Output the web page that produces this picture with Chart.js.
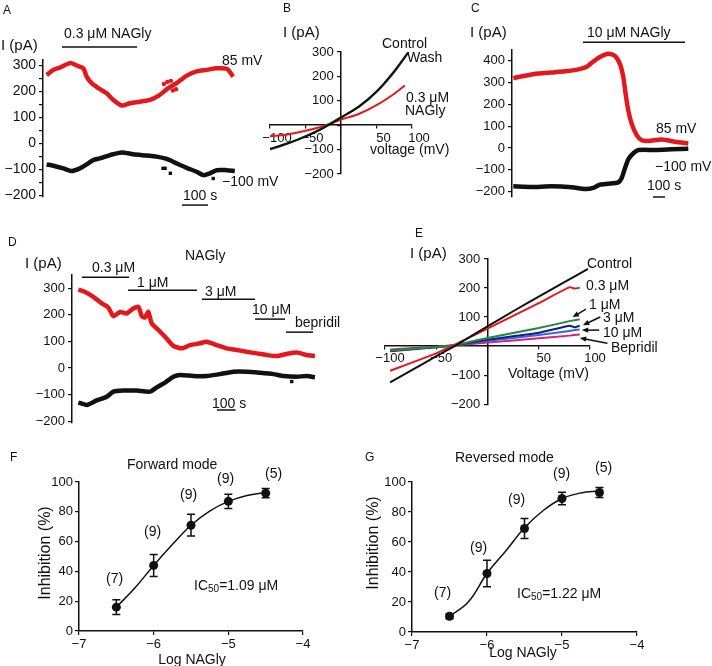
<!DOCTYPE html>
<html><head><meta charset="utf-8">
<script src="https://cdn.jsdelivr.net/npm/chart.js@4.4.1/dist/chart.umd.min.js"></script>
<style>
html,body{margin:0;padding:0;background:#fff;}
#fig{position:relative;width:712px;height:666px;overflow:hidden;background:#fff;font-family:"Liberation Sans",Arial,Helvetica,sans-serif;color:#111;}
canvas{position:absolute;}
.t{position:absolute;font-size:14px;line-height:16px;white-space:nowrap;}
.p{position:absolute;font-size:12px;line-height:14px;}
.r{position:absolute;font-size:16px;line-height:18px;white-space:nowrap;transform:translate(-50%,-50%) rotate(-90deg);}
.c{position:absolute;font-size:14px;line-height:16px;white-space:nowrap;transform:translateX(-50%);}
sub{font-size:10px;vertical-align:-2px;line-height:0;}
</style></head><body><div id="fig">
<canvas id="cA"></canvas><canvas id="cB"></canvas><canvas id="cC"></canvas>
<canvas id="cD"></canvas><canvas id="cE"></canvas><canvas id="cF"></canvas><canvas id="cG"></canvas>

<div class="p" style="left:3px;top:3px">A</div>
<div class="t" style="left:1px;top:37px;font-size:15px">I (pA)</div>
<div class="t" style="left:64px;top:25px">0.3 μM NAGly</div>
<div class="t" style="left:222px;top:52px">85 mV</div>
<div class="t" style="left:222px;top:173px">−100 mV</div>
<div class="t" style="left:183px;top:187px">100 s</div>

<div class="p" style="left:283px;top:1px">B</div>
<div class="t" style="left:283px;top:24px;font-size:15px">I (pA)</div>
<div class="t" style="left:382px;top:35px">Control</div>
<div class="t" style="left:407px;top:49px">Wash</div>
<div class="t" style="left:406px;top:89px">0.3 μM</div>
<div class="t" style="left:405px;top:102px">NAGly</div>
<div class="t" style="left:370px;top:141px">voltage (mV)</div>

<div class="p" style="left:471px;top:1px">C</div>
<div class="t" style="left:470px;top:24px;font-size:15px">I (pA)</div>
<div class="t" style="left:587px;top:24px">10 μM NAGly</div>
<div class="t" style="left:656px;top:120px">85 mV</div>
<div class="t" style="left:655px;top:158px">−100 mV</div>
<div class="t" style="left:647px;top:177px">100 s</div>

<div class="p" style="left:8px;top:235px">D</div>
<div class="t" style="left:25px;top:255px;font-size:15px">I (pA)</div>
<div class="t" style="left:185px;top:247px">NAGly</div>
<div class="t" style="left:92px;top:259px">0.3 μM</div>
<div class="t" style="left:137px;top:274px">1 μM</div>
<div class="t" style="left:205px;top:283px">3 μM</div>
<div class="t" style="left:252px;top:301px">10 μM</div>
<div class="t" style="left:295px;top:314px">bepridil</div>
<div class="t" style="left:212px;top:395px">100 s</div>

<div class="p" style="left:415px;top:226px">E</div>
<div class="t" style="left:410px;top:245px;font-size:15px">I (pA)</div>
<div class="t" style="left:587px;top:255px">Control</div>
<div class="t" style="left:586px;top:277px">0.3 μM</div>
<div class="t" style="left:589px;top:296px">1 μM</div>
<div class="t" style="left:603px;top:309px">3 μM</div>
<div class="t" style="left:603px;top:324px">10 μM</div>
<div class="t" style="left:611px;top:339px">Bepridil</div>
<div class="t" style="left:508px;top:365px">Voltage (mV)</div>

<div class="p" style="left:10px;top:450px">F</div>
<div class="t" style="left:127px;top:456px">Forward mode</div>
<div class="t" style="left:106px;top:570px">(7)</div>
<div class="t" style="left:144px;top:523px">(9)</div>
<div class="t" style="left:180px;top:486px">(9)</div>
<div class="t" style="left:217px;top:470px">(9)</div>
<div class="t" style="left:265px;top:465px">(5)</div>
<div class="t" style="left:194px;top:577px">IC<sub>50</sub>=1.09 μM</div>
<div class="r" style="left:45px;top:553px">Inhibition (%)</div>
<div class="c" style="left:192px;top:651px">Log NAGly</div>

<div class="p" style="left:365px;top:450px">G</div>
<div class="t" style="left:455px;top:449px">Reversed mode</div>
<div class="t" style="left:434px;top:584px">(7)</div>
<div class="t" style="left:470px;top:539px">(9)</div>
<div class="t" style="left:508px;top:491px">(9)</div>
<div class="t" style="left:553px;top:465px">(9)</div>
<div class="t" style="left:595px;top:459px">(5)</div>
<div class="t" style="left:517px;top:585px">IC<sub>50</sub>=1.22 μM</div>
<div class="r" style="left:373px;top:543px">Inhibition (%)</div>
<div class="c" style="left:523px;top:644px">Log NAGly</div>
</div>
<script>
// ===== DATA =====
// Panel A: time (s) and current (pA) at 85 mV (red) and -100 mV (black)
const tA_red = [14,40,65,104,130,155,168,187,213,245,270,303,335,373,412,444,482,514,553,591,630,668,707,732];
const iA_red = [263,282,291,308,299,288,256,231,212,192,167,145,154,160,167,182,212,231,260,276,282,288,286,256];
const tA_redOut = [465,478,492,500,512];
const iA_redOut = [228,236,240,203,208];
const tA_blk = [14,40,78,110,142,174,194,219,258,303,347,399,437,476,514,553,591,617,642,668,707,738];
const iA_blk = [-81,-86,-96,-106,-96,-77,-64,-58,-45,-35,-42,-47,-51,-60,-77,-94,-109,-122,-115,-103,-103,-106];
const tA_blkOut = [462,470,490,655];
const iA_blkOut = [-96,-96,-115,-135];
const yTicksA = [-200,-150,-100,-50,0,50,100,150,200,250,300];
const yLabelsA = [-200,-100,0,100,200,300];
const drugBarsA = [[73,362,370]];      // [t start, t end, level]
const scaleBarA = [[535,635,-237]];

// Panel B: I-V curves
const vB = [-100,-75,-50,-25,0,25,50,75,95];
const iB_ctrl = [-97,-74,-47,-12,31,76,138,222,300];
const iB_wash = [-100,-75,-45,-10,33,75,136,218,298];
const vB_nag = [-100,-75,-50,-25,0,25,50,75,90];
const iB_nag = [-45,-38,-23,-4,23,46,82,129,163];
const xTicksB = [-100,-50,0,50,100];
const yTicksB = [-200,-100,0,100,200,300];

// Panel C: time course, 10 uM NAGly
const tC_red = [11,108,219,331,442,553,622,678,733,803,858,900,928,947,969,997,1039,1081,1136,1247,1358,1469];
const iC_red = [321,332,342,347,352,361,373,397,418,433,423,385,324,248,173,112,59,36,32,39,29,21];
const tC_blk = [11,164,331,497,608,678,733,803,886,914,942,969,1011,1053,1192,1331,1469];
const iC_blk = [-176,-179,-176,-180,-188,-183,-168,-164,-158,-138,-92,-52,-24,-9,-9,-6,-3];
const yTicksC = [-200,-100,0,100,200,300,400];
const drugBarsC = [[592,1442,486]];
const scaleBarC = [[1175,1275,-225]];

// Panel D: cumulative NAGly + bepridil
const tD_red = [34,70,114,159,194,221,257,292,328,355,373,390,408,426,462,506,542,587,631,684,720,774,827,881,934,988,1041,1095,1148,1202,1255,1299];
const iD_red = [295,286,268,243,228,195,211,205,224,230,195,190,211,168,143,111,83,74,86,93,99,86,74,68,61,55,49,45,53,58,49,45];
const tD_blk = [34,79,132,186,221,275,346,417,453,497,542,578,649,720,791,863,934,1005,1077,1130,1202,1255,1299];
const iD_blk = [-130,-139,-122,-108,-89,-85,-85,-89,-73,-55,-33,-26,-30,-30,-23,-14,-14,-18,-23,-30,-33,-30,-35];
const tD_blkOut = [1175];
const iD_blkOut = [-51];
const yTicksD = [-200,-100,0,100,200,300];
const drugBarsD = [[53,305,342],[300,668,293],[695,979,259],[979,1139,184],[1144,1289,135]];
const scaleBarD = [[775,875,-158]];

// Panel E: I-V at increasing NAGly
const vE_ctrl = [-95,-70,-50,-32,0,25,50,75,98];
const iE_ctrl = [-125,-75,-35,0,68,120,170,220,266];
const vE = [-95,-50,-32,0,50,80,85,90];
const iE_03 = [-85,-25,5,60,148,203,198,201];
const iE_1 = [-15,-3,3,28,62,86,89,92];
const iE_3 = [-18,-4,3,22,46,70,65,70];
const iE_10 = [-16,-3,3,18,38,52,55,57];
const iE_bep = [-12,-2,3,12,27,36,38,40];
const xTicksE = [-100,-50,0,50,100];
const yTicksE = [-200,-100,0,100,200,300];
const arrowsE = [[96,127,83,100],[110,100,93,72],[109,55,92,55],[117,10,90,28]];

// Panels F & G: concentration-response
const logConc = [-6.5,-6,-5.5,-5,-4.5];
const inhF = [16,44,71,87,92.5];
const errF = [5,7.4,7.3,4.8,3.1];
const inhG = [10.5,39,69,89,93];
const errG = [1.7,8.9,6.7,4.2,3.3];
const fitX = [-6.5,-6.25,-6,-5.75,-5.5,-5.25,-5,-4.75,-4.5];
const fitF = [16,29,44,58,71,80.5,87,91,93];
const fitG = [10.5,20,39,54,69.5,81,89,92.7,94];
const xTicksFG = [-7,-6,-5,-4];
const yTicksFG = [0,20,40,60,80,100];

// ===== DRAWING =====
const INK = '#111';
const RED = 'rgb(228,24,28)';
const FONT = '"Liberation Sans", Arial, Helvetica, sans-serif';
const fmt = v => v < 0 ? '\u2212' + Math.abs(v) : String(v);
const pts = (xs, ys) => xs.map((x, i) => ({x: x, y: ys[i]}));
function trace(xs, ys, color, w, tension) {
  return {data: pts(xs, ys), showLine: true, borderColor: color, backgroundColor: color,
    borderWidth: w, pointRadius: 0, tension: tension === undefined ? 0.25 : tension};
}
function dots(xs, ys, color, r, style) {
  return {data: pts(xs, ys), showLine: false, backgroundColor: color, borderColor: color,
    pointRadius: r, pointStyle: style || 'circle', borderWidth: 0};
}
function place(id, box) {
  const c = document.getElementById(id);
  c.width = box[2]; c.height = box[3];
  c.style.left = box[0] + 'px'; c.style.top = box[1] + 'px';
  return c;
}
const gridOpt = (tl) => ({display: true, drawOnChartArea: false, drawTicks: true, tickLength: tl, color: INK, lineWidth: 1.2});
const borderOpt = () => ({display: true, color: INK, width: 1.5});

function annotPlugin(a) {
  return {id: 'annot', afterDatasetsDraw(chart) {
    const ctx = chart.ctx, X = chart.scales.x, Y = chart.scales.y;
    const px = v => X.getPixelForValue(v), py = v => Y.getPixelForValue(v);
    ctx.save(); ctx.strokeStyle = INK; ctx.fillStyle = INK; ctx.lineWidth = 1.5;
    (a.bars || []).forEach(b => {
      ctx.beginPath(); ctx.moveTo(px(b[0]), py(b[2])); ctx.lineTo(px(b[1]), py(b[2])); ctx.stroke();
    });
    if (a.err) {
      a.err.x.forEach((x, i) => {
        const cx = px(x), y0 = py(a.err.y[i] - a.err.e[i]), y1 = py(a.err.y[i] + a.err.e[i]);
        ctx.beginPath(); ctx.moveTo(cx, y0); ctx.lineTo(cx, y1);
        ctx.moveTo(cx - 4, y0); ctx.lineTo(cx + 4, y0);
        ctx.moveTo(cx - 4, y1); ctx.lineTo(cx + 4, y1); ctx.stroke();
      });
    }
    (a.arrows || []).forEach(r => {
      const x0 = px(r[0]), y0 = py(r[1]), x1 = px(r[2]), y1 = py(r[3]);
      const ang = Math.atan2(y1 - y0, x1 - x0), L = 7;
      ctx.lineWidth = 1.5;
      ctx.beginPath(); ctx.moveTo(x0, y0); ctx.lineTo(x1 - Math.cos(ang) * 4, y1 - Math.sin(ang) * 4); ctx.stroke();
      ctx.beginPath(); ctx.moveTo(x1, y1);
      ctx.lineTo(x1 - L * Math.cos(ang - 0.4), y1 - L * Math.sin(ang - 0.4));
      ctx.lineTo(x1 - L * Math.cos(ang + 0.4), y1 - L * Math.sin(ang + 0.4));
      ctx.closePath(); ctx.fill();
    });
    ctx.restore();
  }};
}
const baseOpts = () => ({responsive: false, maintainAspectRatio: false, animation: false, events: [],
  plugins: {legend: {display: false}, tooltip: {enabled: false}}});

function traceChart(id, box, area, xMax, yMin, yMax, yTicks, yLabels, fs, datasets, annot) {
  const cv = place(id, box);
  const o = baseOpts();
  o.layout = {padding: {left: 0, top: area[1] - box[1], right: box[0] + box[2] - area[2], bottom: box[1] + box[3] - area[3]}};
  o.scales = {
    x: {type: 'linear', min: 0, max: xMax, display: false},
    y: {type: 'linear', min: yMin, max: yMax,
      afterBuildTicks: s => { s.ticks = yTicks.map(v => ({value: v})); },
      afterFit: s => { s.width = area[0] - box[0]; },
      ticks: {autoSkip: false, padding: 3, color: INK, font: {family: FONT, size: fs},
        callback: v => yLabels.includes(v) ? fmt(v) : ''},
      grid: gridOpt(4), border: borderOpt()}
  };
  return new Chart(cv, {type: 'scatter', data: {datasets: datasets}, options: o, plugins: [annotPlugin(annot)]});
}

function crossChart(id, box, area, xr, yr, xTicks, yTicks, xOff, datasets, annot) {
  const cv = place(id, box);
  const o = baseOpts();
  o.layout = {padding: {left: area[0] - box[0], top: area[1] - box[1], right: box[0] + box[2] - area[2], bottom: box[1] + box[3] - area[3]}};
  o.scales = {
    x: {type: 'linear', min: xr[0], max: xr[1], position: {y: 0},
      afterBuildTicks: s => { s.ticks = xTicks.map(v => ({value: v})); },
      afterFit: s => { s.height = 0; },
      ticks: {autoSkip: false, maxRotation: 0, padding: 2, labelOffset: xOff, color: INK, font: {family: FONT, size: 13},
        callback: v => v === 0 ? '' : fmt(v)},
      grid: gridOpt(3), border: borderOpt()},
    y: {type: 'linear', min: yr[0], max: yr[1], position: {x: 0},
      afterBuildTicks: s => { s.ticks = yTicks.map(v => ({value: v})); },
      afterFit: s => { s.width = 0; },
      ticks: {autoSkip: false, padding: 3, color: INK, font: {family: FONT, size: 13},
        callback: v => v === 0 ? '' : fmt(v) + '  '},
      grid: gridOpt(3), border: borderOpt()}
  };
  return new Chart(cv, {type: 'scatter', data: {datasets: datasets}, options: o, plugins: [annotPlugin(annot || {})]});
}

function doseChart(id, box, area, inh, err, fit) {
  const cv = place(id, box);
  const o = baseOpts();
  o.layout = {padding: {left: 0, top: area[1] - box[1], right: box[0] + box[2] - area[2], bottom: 0}};
  o.scales = {
    x: {type: 'linear', min: -7, max: -4,
      afterBuildTicks: s => { s.ticks = xTicksFG.map(v => ({value: v})); },
      afterFit: s => { s.height = box[1] + box[3] - area[3]; },
      ticks: {autoSkip: false, maxRotation: 0, padding: 2, color: INK, font: {family: FONT, size: 13}, callback: v => fmt(v)},
      grid: gridOpt(4), border: borderOpt()},
    y: {type: 'linear', min: 0, max: 100,
      afterBuildTicks: s => { s.ticks = yTicksFG.map(v => ({value: v})); },
      afterFit: s => { s.width = area[0] - box[0]; },
      ticks: {autoSkip: false, padding: 2, color: INK, font: {family: FONT, size: 13}, callback: v => fmt(v)},
      grid: gridOpt(4), border: borderOpt()}
  };
  const ds = [
    {data: pts(fitX, fit), showLine: true, borderColor: INK, borderWidth: 1.5, pointRadius: 0, tension: 0.4},
    dots(logConc, inh, INK, 4.5)
  ];
  return new Chart(cv, {type: 'scatter', data: {datasets: ds}, options: o,
    plugins: [annotPlugin({err: {x: logConc, y: inh, e: err}})]});
}

// A
traceChart('cA', [0, 0, 250, 215], [43, 60, 240, 197], 758, -206, 320, yTicksA, yLabelsA, 14, [
  trace(tA_red, iA_red, RED, 4.5), dots(tA_redOut, iA_redOut, RED, 2.2),
  trace(tA_blk, iA_blk, INK, 4.5), dots(tA_blkOut, iA_blkOut, INK, 2.4, 'rect')
], {bars: drugBarsA.concat(scaleBarA)});

// B
crossChart('cB', [240, 0, 240, 215], [270, 52, 412, 174], [-100, 100], [-200, 300], xTicksB, yTicksB, 7, [
  trace(vB, iB_ctrl, INK, 2, 0.3),
  trace(vB, iB_wash, 'rgb(20,110,40)', 2, 0.3),
  trace(vB_nag, iB_nag, RED, 2, 0.3)
]);

// C
traceChart('cC', [470, 0, 242, 215], [512, 50, 695, 197], 1525, -225, 450, yTicksC, yTicksC, 13, [
  trace(tC_red, iC_red, RED, 4.5, 0.2), trace(tC_blk, iC_blk, INK, 4.5, 0.2)
], {bars: drugBarsC.concat(scaleBarC)});

// D
traceChart('cD', [0, 215, 340, 225], [72, 275, 320, 423], 1326, -207, 350, yTicksD, yTicksD, 13, [
  trace(tD_red, iD_red, RED, 4.5, 0.2), trace(tD_blk, iD_blk, INK, 4.5, 0.2),
  dots(tD_blkOut, iD_blkOut, INK, 2.4, 'rect')
], {bars: drugBarsD.concat(scaleBarD)});

// E
crossChart('cE', [360, 215, 352, 225], [385, 259, 590, 405], [-100, 100], [-203, 300], xTicksE, yTicksE, 5, [
  trace(vE_ctrl, iE_ctrl, INK, 2, 0.1),
  trace(vE, iE_03, RED, 2, 0.1),
  trace(vE, iE_1, 'rgb(30,140,50)', 2, 0.1),
  trace(vE, iE_3, 'rgb(25,25,140)', 2, 0.1),
  trace(vE, iE_10, 'rgb(40,110,220)', 2, 0.1),
  trace(vE, iE_bep, 'rgb(220,30,130)', 2, 0.1)
], {arrows: arrowsE});

// F, G
doseChart('cF', [0, 440, 350, 226], [79, 482, 303, 631], inhF, errF, fitF);
doseChart('cG', [355, 440, 357, 226], [412, 482, 637, 632], inhG, errG, fitG);
</script>
</body></html>
